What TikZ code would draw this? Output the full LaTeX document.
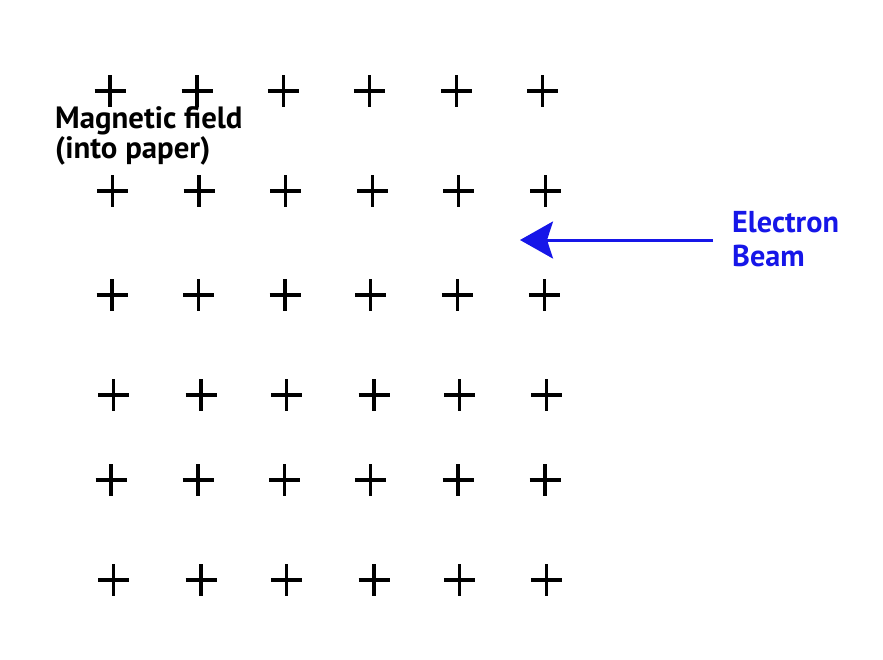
\documentclass[tikz,border=0pt]{standalone}
\usepackage{fontspec}
\setmainfont{PT Sans}
\usetikzlibrary{arrows.meta}
\definecolor{beamblue}{RGB}{22,22,232}
\tikzset{
  plusmark/.style={line width=3.2pt,black},
  lbl/.style={font=\bfseries, inner sep=0pt, anchor=base west, align=left},
  beam/.style={line width=3pt, beamblue, -{Stealth[length=33pt,width=37pt,inset=6pt]}}
}
\begin{document}
\begin{tikzpicture}[x=1pt,y=-1pt]
\useasboundingbox (0,0) rectangle (883,659);
% rows: y ; x positions
\foreach \yy/\xa/\xb/\xc/\xd/\xe/\xf in {
  91/110/197/283.3/369.3/456.7/542.7,
  191/112.5/199/285.7/372.7/458.7/545.7,
  295/112/198.5/285/370.7/457.3/544.3,
  395/113.5/201/286.7/374/459.7/546.7,
  480/111/198/284.7/370.7/458/545,
  580/113.5/201/286.7/374/459.7/546.7}{
  \foreach \xx in {\xa,\xb,\xc,\xd,\xe,\xf}{
    \draw[plusmark] (\xx-15.5,\yy) -- (\xx+15.5,\yy) (\xx,\yy-16) -- (\xx,\yy+16);
  }
}
\node[lbl, font=\fontsize{30.8}{27.3}\bfseries\selectfont] (field) at (55,158.3)
  {Magnetic field\\(into paper)};
\node[lbl, text=beamblue, font=\fontsize{30.2}{34}\selectfont\bfseries] (ebeam) at (732,266.7)
  {Electron\\Beam};
\coordinate (bstart) at (713,240);
\coordinate (bend) at (520,240);
\draw[beam] (bstart) -- (bend);
\end{tikzpicture}
\end{document}
